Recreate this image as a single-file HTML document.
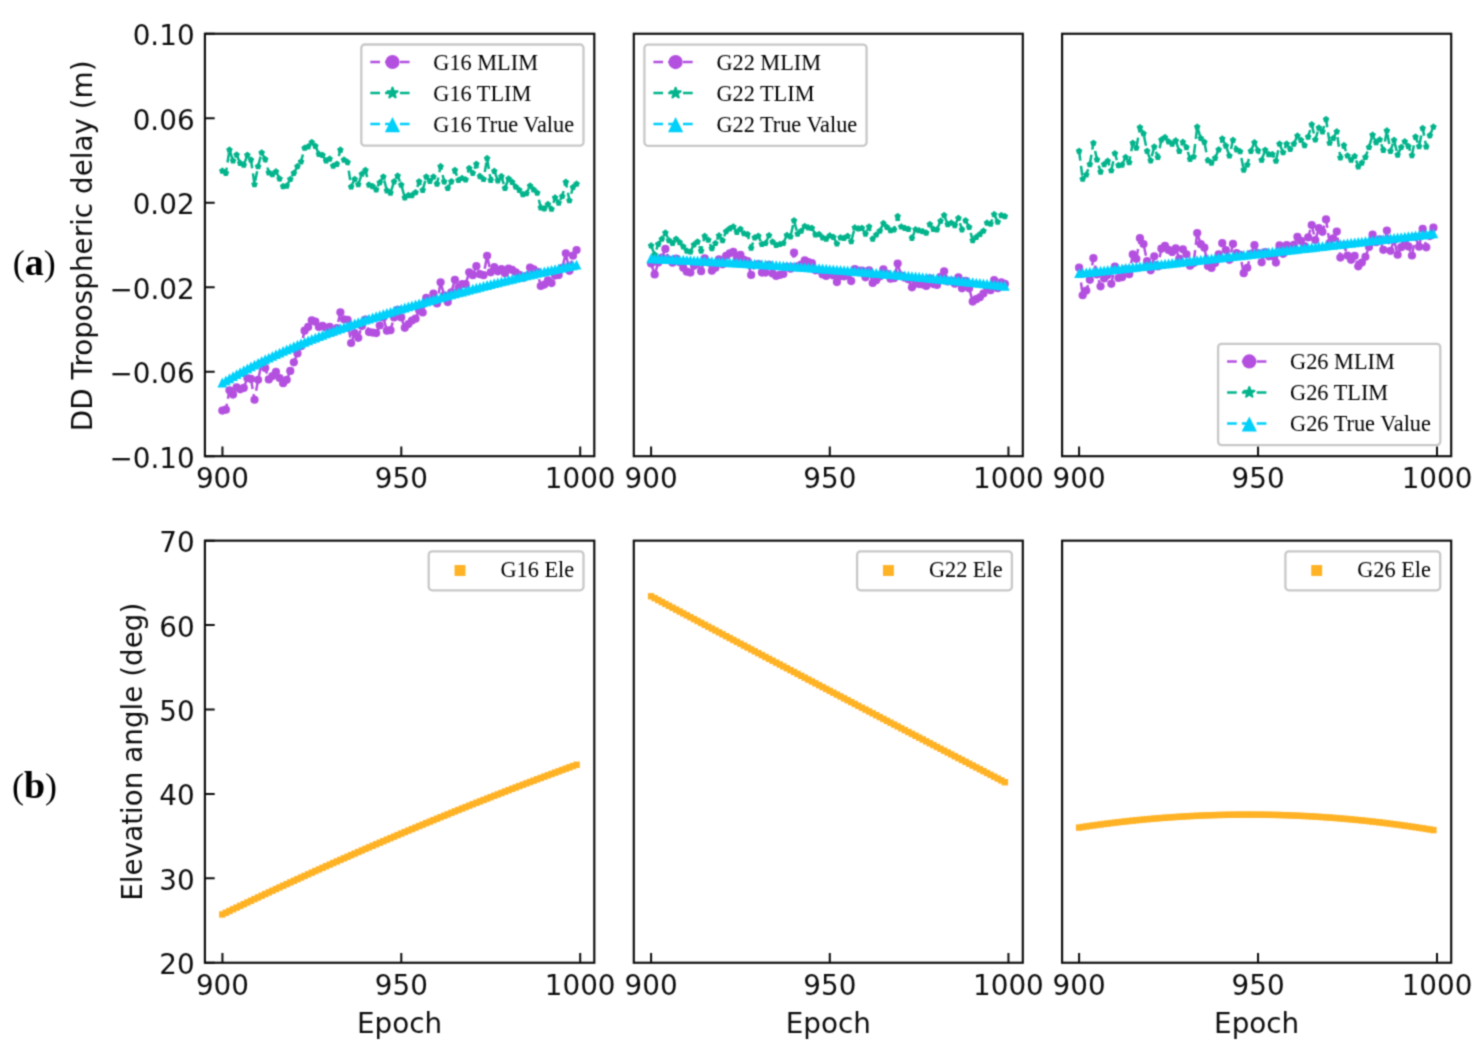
<!DOCTYPE html>
<html lang="en"><head><meta charset="utf-8"><title>DD tropospheric delay and elevation angle</title>
<style>html,body{margin:0;padding:0;background:#fff}body{width:1481px;height:1057px;overflow:hidden}
svg{display:block}text{font-family:'DejaVu Sans','Liberation Sans',sans-serif;font-size:27.8px;fill:#0d0d0d}
text.lg{font-family:'Liberation Serif','DejaVu Serif',serif;font-size:22.3px;fill:#000}
text.pl{font-family:'Liberation Serif','DejaVu Serif',serif;font-size:36px;fill:#000}text.pl tspan{font-weight:bold;font-size:38px}
</style></head><body>
<svg width="1481" height="1057" viewBox="0 0 1481 1057">
<rect width="1481" height="1057" fill="#fff"/>
<defs>
<circle id="mc" r="4.1" fill="#b450e0"/>
<path id="ms" d="M0,-2.4L0.99,-1.36L2.28,-0.74L1.6,0.52L1.41,1.94L0,1.68L-1.41,1.94L-1.6,0.52L-2.28,-0.74L-0.99,-1.36Z" fill="#03b48c" stroke="#03b48c" stroke-width="1.9" stroke-linejoin="round"/>
<path id="mt" d="M0,-4.9L4.9,4.9L-4.9,4.9Z" fill="#00d0fa"/>
<rect id="mq" x="-3.2" y="-3.2" width="6.4" height="6.4" fill="#ffb224"/>
<circle id="lc" r="7.1" fill="#b450e0"/>
<path id="ls" d="M0,-5.3L1.19,-1.64L5.04,-1.64L1.93,0.63L3.12,4.29L0,2.02L-3.12,4.29L-1.93,0.63L-5.04,-1.64L-1.19,-1.64Z" fill="#03b48c" stroke="#03b48c" stroke-width="2.2" stroke-linejoin="round"/>
<path id="lt" d="M0,-7.6L7.6,7.6L-7.6,7.6Z" fill="#00d0fa"/>
<rect id="lq" x="-5.45" y="-5.45" width="10.9" height="10.9" fill="#ffb224"/>
</defs>
<filter id="bl" color-interpolation-filters="sRGB" x="0" y="0" width="1481" height="1057" filterUnits="userSpaceOnUse"><feConvolveMatrix order="3" kernelMatrix="0.0400 0.1200 0.0400 0.1200 0.3600 0.1200 0.0400 0.1200 0.0400" edgeMode="duplicate"/></filter>
<g filter="url(#bl)">
<rect width="1481" height="1057" fill="#fff"/>
<g>
<polyline points="222.3,410.62 225.88,409.67 229.46,390.28 233.04,394.54 236.61,387.44 240.19,389.33 243.77,387.91 247.35,377.98 250.93,378.93 254.51,399.74 258.09,379.87 261.66,363.48 265.24,368.05 268.82,379.4 272.4,376.09 275.98,371.83 279.56,377.98 283.13,383.18 286.71,379.87 290.29,370.88 293.87,362.37 297.45,353.38 301.03,346.21 304.61,330.69 308.18,326.9 311.76,320.28 315.34,321.7 318.92,326.9 322.5,325.96 326.08,327.85 329.66,326.9 333.23,331.92 336.81,328.1 340.39,312.24 343.97,319.33 347.55,319.81 351.13,342.98 354.7,333.05 358.28,337.78 361.86,325.96 365.44,319.51 369.02,332.11 372.6,332.58 376.18,333.05 379.75,325.48 383.33,317.49 386.91,330.69 390.49,330.21 394.07,317.44 397.65,309.89 401.23,317.44 404.8,327.85 408.38,324.06 411.96,320.55 415.54,318.66 419.12,310.15 422.7,312.51 426.27,297.85 429.85,300.82 433.43,293.59 437.01,303.52 440.59,282.24 444.17,295.24 447.75,302.11 451.32,292.27 454.9,279.87 458.48,287.93 462.06,284.13 465.64,284.13 469.22,272.3 472.8,275.14 476.37,266.15 479.95,274.2 483.53,275.14 487.11,255.75 490.69,272.3 494.27,267.1 497.84,271.36 501.42,268.99 505,273.25 508.58,268.52 512.16,269.94 515.74,272.3 519.32,274.97 522.89,278.02 526.47,275.87 530.05,267.57 533.63,269.47 537.21,271.92 540.79,286.02 544.37,284.6 547.94,280.35 551.52,283.12 555.1,275.55 558.68,275.08 562.26,267.88 565.84,253.32 569.41,270.82 572.99,255.68 576.57,250" fill="none" stroke="#b450e0" stroke-width="2.5" stroke-dasharray="9.7 5.2" stroke-linejoin="round"/>
<g><use href="#mc" x="222.3" y="410.62"/><use href="#mc" x="225.88" y="409.67"/><use href="#mc" x="229.46" y="390.28"/><use href="#mc" x="233.04" y="394.54"/><use href="#mc" x="236.61" y="387.44"/><use href="#mc" x="240.19" y="389.33"/><use href="#mc" x="243.77" y="387.91"/><use href="#mc" x="247.35" y="377.98"/><use href="#mc" x="250.93" y="378.93"/><use href="#mc" x="254.51" y="399.74"/><use href="#mc" x="258.09" y="379.87"/><use href="#mc" x="261.66" y="363.48"/><use href="#mc" x="265.24" y="368.05"/><use href="#mc" x="268.82" y="379.4"/><use href="#mc" x="272.4" y="376.09"/><use href="#mc" x="275.98" y="371.83"/><use href="#mc" x="279.56" y="377.98"/><use href="#mc" x="283.13" y="383.18"/><use href="#mc" x="286.71" y="379.87"/><use href="#mc" x="290.29" y="370.88"/><use href="#mc" x="293.87" y="362.37"/><use href="#mc" x="297.45" y="353.38"/><use href="#mc" x="301.03" y="346.21"/><use href="#mc" x="304.61" y="330.69"/><use href="#mc" x="308.18" y="326.9"/><use href="#mc" x="311.76" y="320.28"/><use href="#mc" x="315.34" y="321.7"/><use href="#mc" x="318.92" y="326.9"/><use href="#mc" x="322.5" y="325.96"/><use href="#mc" x="326.08" y="327.85"/><use href="#mc" x="329.66" y="326.9"/><use href="#mc" x="333.23" y="331.92"/><use href="#mc" x="336.81" y="328.1"/><use href="#mc" x="340.39" y="312.24"/><use href="#mc" x="343.97" y="319.33"/><use href="#mc" x="347.55" y="319.81"/><use href="#mc" x="351.13" y="342.98"/><use href="#mc" x="354.7" y="333.05"/><use href="#mc" x="358.28" y="337.78"/><use href="#mc" x="361.86" y="325.96"/><use href="#mc" x="365.44" y="319.51"/><use href="#mc" x="369.02" y="332.11"/><use href="#mc" x="372.6" y="332.58"/><use href="#mc" x="376.18" y="333.05"/><use href="#mc" x="379.75" y="325.48"/><use href="#mc" x="383.33" y="317.49"/><use href="#mc" x="386.91" y="330.69"/><use href="#mc" x="390.49" y="330.21"/><use href="#mc" x="394.07" y="317.44"/><use href="#mc" x="397.65" y="309.89"/><use href="#mc" x="401.23" y="317.44"/><use href="#mc" x="404.8" y="327.85"/><use href="#mc" x="408.38" y="324.06"/><use href="#mc" x="411.96" y="320.55"/><use href="#mc" x="415.54" y="318.66"/><use href="#mc" x="419.12" y="310.15"/><use href="#mc" x="422.7" y="312.51"/><use href="#mc" x="426.27" y="297.85"/><use href="#mc" x="429.85" y="300.82"/><use href="#mc" x="433.43" y="293.59"/><use href="#mc" x="437.01" y="303.52"/><use href="#mc" x="440.59" y="282.24"/><use href="#mc" x="444.17" y="295.24"/><use href="#mc" x="447.75" y="302.11"/><use href="#mc" x="451.32" y="292.27"/><use href="#mc" x="454.9" y="279.87"/><use href="#mc" x="458.48" y="287.93"/><use href="#mc" x="462.06" y="284.13"/><use href="#mc" x="465.64" y="284.13"/><use href="#mc" x="469.22" y="272.3"/><use href="#mc" x="472.8" y="275.14"/><use href="#mc" x="476.37" y="266.15"/><use href="#mc" x="479.95" y="274.2"/><use href="#mc" x="483.53" y="275.14"/><use href="#mc" x="487.11" y="255.75"/><use href="#mc" x="490.69" y="272.3"/><use href="#mc" x="494.27" y="267.1"/><use href="#mc" x="497.84" y="271.36"/><use href="#mc" x="501.42" y="268.99"/><use href="#mc" x="505" y="273.25"/><use href="#mc" x="508.58" y="268.52"/><use href="#mc" x="512.16" y="269.94"/><use href="#mc" x="515.74" y="272.3"/><use href="#mc" x="519.32" y="274.97"/><use href="#mc" x="522.89" y="278.02"/><use href="#mc" x="526.47" y="275.87"/><use href="#mc" x="530.05" y="267.57"/><use href="#mc" x="533.63" y="269.47"/><use href="#mc" x="537.21" y="271.92"/><use href="#mc" x="540.79" y="286.02"/><use href="#mc" x="544.37" y="284.6"/><use href="#mc" x="547.94" y="280.35"/><use href="#mc" x="551.52" y="283.12"/><use href="#mc" x="555.1" y="275.55"/><use href="#mc" x="558.68" y="275.08"/><use href="#mc" x="562.26" y="267.88"/><use href="#mc" x="565.84" y="253.32"/><use href="#mc" x="569.41" y="270.82"/><use href="#mc" x="572.99" y="255.68"/><use href="#mc" x="576.57" y="250"/></g>
<polyline points="222.3,170.87 225.88,173.05 229.46,149.87 233.04,160.75 236.61,154.79 240.19,163.11 243.77,165 247.35,155.07 250.93,159.8 254.51,184.4 258.09,166.42 261.66,152.71 265.24,159.33 268.82,172.57 272.4,174.47 275.98,171.63 279.56,178.72 283.13,186.29 286.71,185.82 290.29,179.2 293.87,173.05 297.45,166.42 301.03,161.69 304.61,147.98 308.18,146.56 311.76,142.3 315.34,146.08 318.92,154.12 322.5,155.07 326.08,160.75 329.66,158.86 333.23,165.95 336.81,164.06 340.39,149.87 343.97,159.8 347.55,162.17 351.13,186.76 354.7,179.2 358.28,184.4 361.86,173.99 365.44,170.21 369.02,184.87 372.6,186.29 376.18,189.6 379.75,182.51 383.33,176.83 386.91,190.55 390.49,192.91 394.07,181.56 397.65,175.88 401.23,184.87 404.8,197.64 408.38,195.28 411.96,195.28 415.54,192.44 419.12,181.56 422.7,190.08 426.27,176.83 429.85,181.09 433.43,176.83 437.01,183.93 440.59,166.42 444.17,181.56 447.75,188.18 451.32,181.56 454.9,170.21 458.48,180.14 462.06,178.25 465.64,179.67 469.22,168.32 472.8,173.05 476.37,164.06 479.95,176.36 483.53,179.2 487.11,158.38 490.69,180.14 494.27,171.15 497.84,180.61 501.42,176.36 505,188.18 508.58,178.72 512.16,182.03 515.74,186.76 519.32,190.08 522.89,194.33 526.47,193.39 530.05,185.82 533.63,189.6 537.21,192.91 540.79,207.58 544.37,208.52 547.94,204.27 551.52,209 555.1,197.64 558.68,202.85 562.26,196.23 565.84,182.03 569.41,200.48 572.99,187.24 576.57,183.93" fill="none" stroke="#03b48c" stroke-width="2.5" stroke-dasharray="9.7 5.2" stroke-linejoin="round"/>
<g><use href="#ms" x="222.3" y="170.87"/><use href="#ms" x="225.88" y="173.05"/><use href="#ms" x="229.46" y="149.87"/><use href="#ms" x="233.04" y="160.75"/><use href="#ms" x="236.61" y="154.79"/><use href="#ms" x="240.19" y="163.11"/><use href="#ms" x="243.77" y="165"/><use href="#ms" x="247.35" y="155.07"/><use href="#ms" x="250.93" y="159.8"/><use href="#ms" x="254.51" y="184.4"/><use href="#ms" x="258.09" y="166.42"/><use href="#ms" x="261.66" y="152.71"/><use href="#ms" x="265.24" y="159.33"/><use href="#ms" x="268.82" y="172.57"/><use href="#ms" x="272.4" y="174.47"/><use href="#ms" x="275.98" y="171.63"/><use href="#ms" x="279.56" y="178.72"/><use href="#ms" x="283.13" y="186.29"/><use href="#ms" x="286.71" y="185.82"/><use href="#ms" x="290.29" y="179.2"/><use href="#ms" x="293.87" y="173.05"/><use href="#ms" x="297.45" y="166.42"/><use href="#ms" x="301.03" y="161.69"/><use href="#ms" x="304.61" y="147.98"/><use href="#ms" x="308.18" y="146.56"/><use href="#ms" x="311.76" y="142.3"/><use href="#ms" x="315.34" y="146.08"/><use href="#ms" x="318.92" y="154.12"/><use href="#ms" x="322.5" y="155.07"/><use href="#ms" x="326.08" y="160.75"/><use href="#ms" x="329.66" y="158.86"/><use href="#ms" x="333.23" y="165.95"/><use href="#ms" x="336.81" y="164.06"/><use href="#ms" x="340.39" y="149.87"/><use href="#ms" x="343.97" y="159.8"/><use href="#ms" x="347.55" y="162.17"/><use href="#ms" x="351.13" y="186.76"/><use href="#ms" x="354.7" y="179.2"/><use href="#ms" x="358.28" y="184.4"/><use href="#ms" x="361.86" y="173.99"/><use href="#ms" x="365.44" y="170.21"/><use href="#ms" x="369.02" y="184.87"/><use href="#ms" x="372.6" y="186.29"/><use href="#ms" x="376.18" y="189.6"/><use href="#ms" x="379.75" y="182.51"/><use href="#ms" x="383.33" y="176.83"/><use href="#ms" x="386.91" y="190.55"/><use href="#ms" x="390.49" y="192.91"/><use href="#ms" x="394.07" y="181.56"/><use href="#ms" x="397.65" y="175.88"/><use href="#ms" x="401.23" y="184.87"/><use href="#ms" x="404.8" y="197.64"/><use href="#ms" x="408.38" y="195.28"/><use href="#ms" x="411.96" y="195.28"/><use href="#ms" x="415.54" y="192.44"/><use href="#ms" x="419.12" y="181.56"/><use href="#ms" x="422.7" y="190.08"/><use href="#ms" x="426.27" y="176.83"/><use href="#ms" x="429.85" y="181.09"/><use href="#ms" x="433.43" y="176.83"/><use href="#ms" x="437.01" y="183.93"/><use href="#ms" x="440.59" y="166.42"/><use href="#ms" x="444.17" y="181.56"/><use href="#ms" x="447.75" y="188.18"/><use href="#ms" x="451.32" y="181.56"/><use href="#ms" x="454.9" y="170.21"/><use href="#ms" x="458.48" y="180.14"/><use href="#ms" x="462.06" y="178.25"/><use href="#ms" x="465.64" y="179.67"/><use href="#ms" x="469.22" y="168.32"/><use href="#ms" x="472.8" y="173.05"/><use href="#ms" x="476.37" y="164.06"/><use href="#ms" x="479.95" y="176.36"/><use href="#ms" x="483.53" y="179.2"/><use href="#ms" x="487.11" y="158.38"/><use href="#ms" x="490.69" y="180.14"/><use href="#ms" x="494.27" y="171.15"/><use href="#ms" x="497.84" y="180.61"/><use href="#ms" x="501.42" y="176.36"/><use href="#ms" x="505" y="188.18"/><use href="#ms" x="508.58" y="178.72"/><use href="#ms" x="512.16" y="182.03"/><use href="#ms" x="515.74" y="186.76"/><use href="#ms" x="519.32" y="190.08"/><use href="#ms" x="522.89" y="194.33"/><use href="#ms" x="526.47" y="193.39"/><use href="#ms" x="530.05" y="185.82"/><use href="#ms" x="533.63" y="189.6"/><use href="#ms" x="537.21" y="192.91"/><use href="#ms" x="540.79" y="207.58"/><use href="#ms" x="544.37" y="208.52"/><use href="#ms" x="547.94" y="204.27"/><use href="#ms" x="551.52" y="209"/><use href="#ms" x="555.1" y="197.64"/><use href="#ms" x="558.68" y="202.85"/><use href="#ms" x="562.26" y="196.23"/><use href="#ms" x="565.84" y="182.03"/><use href="#ms" x="569.41" y="200.48"/><use href="#ms" x="572.99" y="187.24"/><use href="#ms" x="576.57" y="183.93"/></g>
<polyline points="222.3,382.51 225.88,380.37 229.46,378.27 233.04,376.21 236.61,374.18 240.19,372.2 243.77,370.25 247.35,368.33 250.93,366.45 254.51,364.61 258.09,362.79 261.66,361.01 265.24,359.26 268.82,357.54 272.4,355.85 275.98,354.18 279.56,352.54 283.13,350.94 286.71,349.35 290.29,347.79 293.87,346.26 297.45,344.75 301.03,343.26 304.61,341.8 308.18,340.36 311.76,338.93 315.34,337.53 318.92,336.15 322.5,334.79 326.08,333.45 329.66,332.12 333.23,330.81 336.81,329.52 340.39,328.24 343.97,326.98 347.55,325.74 351.13,324.51 354.7,323.29 358.28,322.09 361.86,320.9 365.44,319.72 369.02,318.56 372.6,317.41 376.18,316.26 379.75,315.13 383.33,314.01 386.91,312.91 390.49,311.81 394.07,310.72 397.65,309.64 401.23,308.57 404.8,307.5 408.38,306.45 411.96,305.4 415.54,304.37 419.12,303.34 422.7,302.31 426.27,301.3 429.85,300.29 433.43,299.29 437.01,298.29 440.59,297.3 444.17,296.32 447.75,295.35 451.32,294.38 454.9,293.41 458.48,292.46 462.06,291.51 465.64,290.56 469.22,289.62 472.8,288.69 476.37,287.76 479.95,286.84 483.53,285.92 487.11,285.02 490.69,284.11 494.27,283.21 497.84,282.32 501.42,281.44 505,280.56 508.58,279.69 512.16,278.82 515.74,277.97 519.32,277.11 522.89,276.27 526.47,275.43 530.05,274.6 533.63,273.78 537.21,272.97 540.79,272.16 544.37,271.37 547.94,270.58 551.52,269.8 555.1,269.04 558.68,268.28 562.26,267.53 565.84,266.79 569.41,266.06 572.99,265.35 576.57,264.64" fill="none" stroke="#00d0fa" stroke-width="2.5" stroke-dasharray="9.7 5.2" stroke-linejoin="round"/>
<g><use href="#mt" x="222.3" y="382.51"/><use href="#mt" x="225.88" y="380.37"/><use href="#mt" x="229.46" y="378.27"/><use href="#mt" x="233.04" y="376.21"/><use href="#mt" x="236.61" y="374.18"/><use href="#mt" x="240.19" y="372.2"/><use href="#mt" x="243.77" y="370.25"/><use href="#mt" x="247.35" y="368.33"/><use href="#mt" x="250.93" y="366.45"/><use href="#mt" x="254.51" y="364.61"/><use href="#mt" x="258.09" y="362.79"/><use href="#mt" x="261.66" y="361.01"/><use href="#mt" x="265.24" y="359.26"/><use href="#mt" x="268.82" y="357.54"/><use href="#mt" x="272.4" y="355.85"/><use href="#mt" x="275.98" y="354.18"/><use href="#mt" x="279.56" y="352.54"/><use href="#mt" x="283.13" y="350.94"/><use href="#mt" x="286.71" y="349.35"/><use href="#mt" x="290.29" y="347.79"/><use href="#mt" x="293.87" y="346.26"/><use href="#mt" x="297.45" y="344.75"/><use href="#mt" x="301.03" y="343.26"/><use href="#mt" x="304.61" y="341.8"/><use href="#mt" x="308.18" y="340.36"/><use href="#mt" x="311.76" y="338.93"/><use href="#mt" x="315.34" y="337.53"/><use href="#mt" x="318.92" y="336.15"/><use href="#mt" x="322.5" y="334.79"/><use href="#mt" x="326.08" y="333.45"/><use href="#mt" x="329.66" y="332.12"/><use href="#mt" x="333.23" y="330.81"/><use href="#mt" x="336.81" y="329.52"/><use href="#mt" x="340.39" y="328.24"/><use href="#mt" x="343.97" y="326.98"/><use href="#mt" x="347.55" y="325.74"/><use href="#mt" x="351.13" y="324.51"/><use href="#mt" x="354.7" y="323.29"/><use href="#mt" x="358.28" y="322.09"/><use href="#mt" x="361.86" y="320.9"/><use href="#mt" x="365.44" y="319.72"/><use href="#mt" x="369.02" y="318.56"/><use href="#mt" x="372.6" y="317.41"/><use href="#mt" x="376.18" y="316.26"/><use href="#mt" x="379.75" y="315.13"/><use href="#mt" x="383.33" y="314.01"/><use href="#mt" x="386.91" y="312.91"/><use href="#mt" x="390.49" y="311.81"/><use href="#mt" x="394.07" y="310.72"/><use href="#mt" x="397.65" y="309.64"/><use href="#mt" x="401.23" y="308.57"/><use href="#mt" x="404.8" y="307.5"/><use href="#mt" x="408.38" y="306.45"/><use href="#mt" x="411.96" y="305.4"/><use href="#mt" x="415.54" y="304.37"/><use href="#mt" x="419.12" y="303.34"/><use href="#mt" x="422.7" y="302.31"/><use href="#mt" x="426.27" y="301.3"/><use href="#mt" x="429.85" y="300.29"/><use href="#mt" x="433.43" y="299.29"/><use href="#mt" x="437.01" y="298.29"/><use href="#mt" x="440.59" y="297.3"/><use href="#mt" x="444.17" y="296.32"/><use href="#mt" x="447.75" y="295.35"/><use href="#mt" x="451.32" y="294.38"/><use href="#mt" x="454.9" y="293.41"/><use href="#mt" x="458.48" y="292.46"/><use href="#mt" x="462.06" y="291.51"/><use href="#mt" x="465.64" y="290.56"/><use href="#mt" x="469.22" y="289.62"/><use href="#mt" x="472.8" y="288.69"/><use href="#mt" x="476.37" y="287.76"/><use href="#mt" x="479.95" y="286.84"/><use href="#mt" x="483.53" y="285.92"/><use href="#mt" x="487.11" y="285.02"/><use href="#mt" x="490.69" y="284.11"/><use href="#mt" x="494.27" y="283.21"/><use href="#mt" x="497.84" y="282.32"/><use href="#mt" x="501.42" y="281.44"/><use href="#mt" x="505" y="280.56"/><use href="#mt" x="508.58" y="279.69"/><use href="#mt" x="512.16" y="278.82"/><use href="#mt" x="515.74" y="277.97"/><use href="#mt" x="519.32" y="277.11"/><use href="#mt" x="522.89" y="276.27"/><use href="#mt" x="526.47" y="275.43"/><use href="#mt" x="530.05" y="274.6"/><use href="#mt" x="533.63" y="273.78"/><use href="#mt" x="537.21" y="272.97"/><use href="#mt" x="540.79" y="272.16"/><use href="#mt" x="544.37" y="271.37"/><use href="#mt" x="547.94" y="270.58"/><use href="#mt" x="551.52" y="269.8"/><use href="#mt" x="555.1" y="269.04"/><use href="#mt" x="558.68" y="268.28"/><use href="#mt" x="562.26" y="267.53"/><use href="#mt" x="565.84" y="266.79"/><use href="#mt" x="569.41" y="266.06"/><use href="#mt" x="572.99" y="265.35"/><use href="#mt" x="576.57" y="264.64"/></g>
<path d="M222.45,456.2v-9.8M401.3,456.2v-9.8M580.2,456.2v-9.8M204.9,33.75h9.8M204.9,118.24h9.8M204.9,202.73h9.8M204.9,287.22h9.8M204.9,371.71h9.8M204.9,456.2h9.8" stroke="#0c0c0c" stroke-width="2.0" fill="none"/>
<rect x="204.9" y="33.75" width="389.4" height="422.45" fill="none" stroke="#0c0c0c" stroke-width="2.15"/>
<text x="222.45" y="488.2" text-anchor="middle">900</text>
<text x="401.3" y="488.2" text-anchor="middle">950</text>
<text x="580.2" y="488.2" text-anchor="middle">1000</text>
<text x="194.6" y="45.25" text-anchor="end">0.10</text>
<text x="194.6" y="129.74" text-anchor="end">0.06</text>
<text x="194.6" y="214.23" text-anchor="end">0.02</text>
<text x="194.6" y="298.72" text-anchor="end">−0.02</text>
<text x="194.6" y="383.21" text-anchor="end">−0.06</text>
<text x="194.6" y="467.7" text-anchor="end">−0.10</text>
<rect x="361.3" y="44.5" width="222.2" height="101.2" rx="3.5" fill="#fff" fill-opacity="0.8" stroke="#c8c8c8" stroke-width="2.3"/>
<line x1="370.3" y1="62" x2="414.8" y2="62" stroke="#b450e0" stroke-width="2.5" stroke-dasharray="9.7 5.1"/>
<use href="#lc" x="392.5" y="62"/>
<text class="lg" x="433.3" y="69.7">G16 MLIM</text>
<line x1="370.3" y1="93" x2="414.8" y2="93" stroke="#03b48c" stroke-width="2.5" stroke-dasharray="9.7 5.1"/>
<use href="#ls" x="392.5" y="93"/>
<text class="lg" x="433.3" y="100.8">G16 TLIM</text>
<line x1="370.3" y1="124" x2="414.8" y2="124" stroke="#00d0fa" stroke-width="2.5" stroke-dasharray="9.7 5.1"/>
<use href="#lt" x="392.5" y="124.6"/>
<text class="lg" x="433.3" y="131.9">G16 True Value</text>
</g>
<g>
<g><use href="#mq" x="222.3" y="914.44"/><use href="#mq" x="225.88" y="912.72"/><use href="#mq" x="229.46" y="911"/><use href="#mq" x="233.04" y="909.29"/><use href="#mq" x="236.61" y="907.58"/><use href="#mq" x="240.19" y="905.88"/><use href="#mq" x="243.77" y="904.18"/><use href="#mq" x="247.35" y="902.48"/><use href="#mq" x="250.93" y="900.79"/><use href="#mq" x="254.51" y="899.1"/><use href="#mq" x="258.09" y="897.42"/><use href="#mq" x="261.66" y="895.74"/><use href="#mq" x="265.24" y="894.06"/><use href="#mq" x="268.82" y="892.39"/><use href="#mq" x="272.4" y="890.72"/><use href="#mq" x="275.98" y="889.06"/><use href="#mq" x="279.56" y="887.4"/><use href="#mq" x="283.13" y="885.75"/><use href="#mq" x="286.71" y="884.1"/><use href="#mq" x="290.29" y="882.46"/><use href="#mq" x="293.87" y="880.82"/><use href="#mq" x="297.45" y="879.18"/><use href="#mq" x="301.03" y="877.55"/><use href="#mq" x="304.61" y="875.92"/><use href="#mq" x="308.18" y="874.3"/><use href="#mq" x="311.76" y="872.68"/><use href="#mq" x="315.34" y="871.06"/><use href="#mq" x="318.92" y="869.45"/><use href="#mq" x="322.5" y="867.85"/><use href="#mq" x="326.08" y="866.24"/><use href="#mq" x="329.66" y="864.65"/><use href="#mq" x="333.23" y="863.05"/><use href="#mq" x="336.81" y="861.46"/><use href="#mq" x="340.39" y="859.88"/><use href="#mq" x="343.97" y="858.3"/><use href="#mq" x="347.55" y="856.72"/><use href="#mq" x="351.13" y="855.15"/><use href="#mq" x="354.7" y="853.58"/><use href="#mq" x="358.28" y="852.02"/><use href="#mq" x="361.86" y="850.46"/><use href="#mq" x="365.44" y="848.9"/><use href="#mq" x="369.02" y="847.35"/><use href="#mq" x="372.6" y="845.81"/><use href="#mq" x="376.18" y="844.26"/><use href="#mq" x="379.75" y="842.73"/><use href="#mq" x="383.33" y="841.19"/><use href="#mq" x="386.91" y="839.66"/><use href="#mq" x="390.49" y="838.14"/><use href="#mq" x="394.07" y="836.62"/><use href="#mq" x="397.65" y="835.1"/><use href="#mq" x="401.23" y="833.59"/><use href="#mq" x="404.8" y="832.08"/><use href="#mq" x="408.38" y="830.58"/><use href="#mq" x="411.96" y="829.08"/><use href="#mq" x="415.54" y="827.58"/><use href="#mq" x="419.12" y="826.09"/><use href="#mq" x="422.7" y="824.61"/><use href="#mq" x="426.27" y="823.13"/><use href="#mq" x="429.85" y="821.65"/><use href="#mq" x="433.43" y="820.17"/><use href="#mq" x="437.01" y="818.71"/><use href="#mq" x="440.59" y="817.24"/><use href="#mq" x="444.17" y="815.78"/><use href="#mq" x="447.75" y="814.32"/><use href="#mq" x="451.32" y="812.87"/><use href="#mq" x="454.9" y="811.42"/><use href="#mq" x="458.48" y="809.98"/><use href="#mq" x="462.06" y="808.54"/><use href="#mq" x="465.64" y="807.11"/><use href="#mq" x="469.22" y="805.68"/><use href="#mq" x="472.8" y="804.25"/><use href="#mq" x="476.37" y="802.83"/><use href="#mq" x="479.95" y="801.41"/><use href="#mq" x="483.53" y="800"/><use href="#mq" x="487.11" y="798.59"/><use href="#mq" x="490.69" y="797.18"/><use href="#mq" x="494.27" y="795.78"/><use href="#mq" x="497.84" y="794.39"/><use href="#mq" x="501.42" y="792.99"/><use href="#mq" x="505" y="791.61"/><use href="#mq" x="508.58" y="790.22"/><use href="#mq" x="512.16" y="788.84"/><use href="#mq" x="515.74" y="787.47"/><use href="#mq" x="519.32" y="786.1"/><use href="#mq" x="522.89" y="784.73"/><use href="#mq" x="526.47" y="783.37"/><use href="#mq" x="530.05" y="782.01"/><use href="#mq" x="533.63" y="780.66"/><use href="#mq" x="537.21" y="779.31"/><use href="#mq" x="540.79" y="777.97"/><use href="#mq" x="544.37" y="776.63"/><use href="#mq" x="547.94" y="775.29"/><use href="#mq" x="551.52" y="773.96"/><use href="#mq" x="555.1" y="772.63"/><use href="#mq" x="558.68" y="771.31"/><use href="#mq" x="562.26" y="769.99"/><use href="#mq" x="565.84" y="768.67"/><use href="#mq" x="569.41" y="767.36"/><use href="#mq" x="572.99" y="766.06"/><use href="#mq" x="576.57" y="764.75"/></g>
<path d="M222.45,962.75v-9.8M401.3,962.75v-9.8M580.2,962.75v-9.8M204.9,540.65h9.8M204.9,625.07h9.8M204.9,709.49h9.8M204.9,793.91h9.8M204.9,878.33h9.8M204.9,962.75h9.8" stroke="#0c0c0c" stroke-width="2.0" fill="none"/>
<rect x="204.9" y="540.65" width="389.4" height="422.1" fill="none" stroke="#0c0c0c" stroke-width="2.15"/>
<text x="222.45" y="994.75" text-anchor="middle">900</text>
<text x="401.3" y="994.75" text-anchor="middle">950</text>
<text x="580.2" y="994.75" text-anchor="middle">1000</text>
<text x="194.6" y="552.15" text-anchor="end">70</text>
<text x="194.6" y="636.57" text-anchor="end">60</text>
<text x="194.6" y="720.99" text-anchor="end">50</text>
<text x="194.6" y="805.41" text-anchor="end">40</text>
<text x="194.6" y="889.83" text-anchor="end">30</text>
<text x="194.6" y="974.25" text-anchor="end">20</text>
<rect x="428.7" y="551.3" width="154.8" height="39" rx="3.5" fill="#fff" fill-opacity="0.8" stroke="#c8c8c8" stroke-width="2.3"/>
<use href="#lq" x="460" y="570.5"/>
<text class="lg" x="500.5" y="577.2">G16 Ele</text>
<text x="399.6" y="1032.6" text-anchor="middle">Epoch</text>
</g>
<g>
<polyline points="651.1,263.46 654.67,274.47 658.25,262.52 661.82,257.58 665.39,248.93 668.97,259.52 672.54,262.64 676.11,258.66 679.69,262.26 683.26,267.85 686.84,271.63 690.41,272.58 693.98,265.85 697.56,263.34 701.13,271.16 704.7,258.33 708.28,262.46 711.85,270.69 715.42,267.85 719,259.24 722.57,264.37 726.14,255.76 729.72,253.3 733.29,251.79 736.86,257.62 740.44,254.95 744.01,259.79 747.58,261.05 751.16,274.94 754.73,265.12 758.31,264 761.88,272.58 765.45,272.58 769.03,264.75 772.6,273.52 776.17,275.89 779.75,274.94 783.32,274 786.89,266.81 790.47,268.7 794.04,252.71 797.61,266.83 801.19,264.48 804.76,260.25 808.33,262.17 811.91,263.15 815.48,270.28 819.05,270.32 822.63,274.47 826.2,275.89 829.78,273.31 833.35,275.42 836.92,282.04 840.5,276.36 844.07,276.36 847.64,275.42 851.22,281.09 854.79,269.09 858.36,270.6 861.94,270.69 865.51,277.31 869.08,270.41 872.66,282.98 876.23,280.15 879.8,276.41 883.38,269.42 886.95,273.8 890.52,278.73 894.1,278.25 897.67,263.59 901.25,275.72 904.82,277.74 908.39,279.3 911.97,287.34 915.54,283.55 919.11,284.03 922.69,284.5 926.26,285.92 929.83,278.29 933.41,284.03 936.98,284.97 940.55,276.87 944.13,271.25 947.7,281.46 951.27,280.68 954.85,283.69 958.42,277.23 961.99,288.28 965.57,280.9 969.14,288.28 972.72,301.53 976.29,299.16 979.86,297.27 983.44,293.49 987.01,287.2 990.58,290.18 994.16,280.01 997.73,288.24 1001.3,282.29 1004.88,283.9" fill="none" stroke="#b450e0" stroke-width="2.5" stroke-dasharray="9.7 5.2" stroke-linejoin="round"/>
<g><use href="#mc" x="651.1" y="263.46"/><use href="#mc" x="654.67" y="274.47"/><use href="#mc" x="658.25" y="262.52"/><use href="#mc" x="661.82" y="257.58"/><use href="#mc" x="665.39" y="248.93"/><use href="#mc" x="668.97" y="259.52"/><use href="#mc" x="672.54" y="262.64"/><use href="#mc" x="676.11" y="258.66"/><use href="#mc" x="679.69" y="262.26"/><use href="#mc" x="683.26" y="267.85"/><use href="#mc" x="686.84" y="271.63"/><use href="#mc" x="690.41" y="272.58"/><use href="#mc" x="693.98" y="265.85"/><use href="#mc" x="697.56" y="263.34"/><use href="#mc" x="701.13" y="271.16"/><use href="#mc" x="704.7" y="258.33"/><use href="#mc" x="708.28" y="262.46"/><use href="#mc" x="711.85" y="270.69"/><use href="#mc" x="715.42" y="267.85"/><use href="#mc" x="719" y="259.24"/><use href="#mc" x="722.57" y="264.37"/><use href="#mc" x="726.14" y="255.76"/><use href="#mc" x="729.72" y="253.3"/><use href="#mc" x="733.29" y="251.79"/><use href="#mc" x="736.86" y="257.62"/><use href="#mc" x="740.44" y="254.95"/><use href="#mc" x="744.01" y="259.79"/><use href="#mc" x="747.58" y="261.05"/><use href="#mc" x="751.16" y="274.94"/><use href="#mc" x="754.73" y="265.12"/><use href="#mc" x="758.31" y="264"/><use href="#mc" x="761.88" y="272.58"/><use href="#mc" x="765.45" y="272.58"/><use href="#mc" x="769.03" y="264.75"/><use href="#mc" x="772.6" y="273.52"/><use href="#mc" x="776.17" y="275.89"/><use href="#mc" x="779.75" y="274.94"/><use href="#mc" x="783.32" y="274"/><use href="#mc" x="786.89" y="266.81"/><use href="#mc" x="790.47" y="268.7"/><use href="#mc" x="794.04" y="252.71"/><use href="#mc" x="797.61" y="266.83"/><use href="#mc" x="801.19" y="264.48"/><use href="#mc" x="804.76" y="260.25"/><use href="#mc" x="808.33" y="262.17"/><use href="#mc" x="811.91" y="263.15"/><use href="#mc" x="815.48" y="270.28"/><use href="#mc" x="819.05" y="270.32"/><use href="#mc" x="822.63" y="274.47"/><use href="#mc" x="826.2" y="275.89"/><use href="#mc" x="829.78" y="273.31"/><use href="#mc" x="833.35" y="275.42"/><use href="#mc" x="836.92" y="282.04"/><use href="#mc" x="840.5" y="276.36"/><use href="#mc" x="844.07" y="276.36"/><use href="#mc" x="847.64" y="275.42"/><use href="#mc" x="851.22" y="281.09"/><use href="#mc" x="854.79" y="269.09"/><use href="#mc" x="858.36" y="270.6"/><use href="#mc" x="861.94" y="270.69"/><use href="#mc" x="865.51" y="277.31"/><use href="#mc" x="869.08" y="270.41"/><use href="#mc" x="872.66" y="282.98"/><use href="#mc" x="876.23" y="280.15"/><use href="#mc" x="879.8" y="276.41"/><use href="#mc" x="883.38" y="269.42"/><use href="#mc" x="886.95" y="273.8"/><use href="#mc" x="890.52" y="278.73"/><use href="#mc" x="894.1" y="278.25"/><use href="#mc" x="897.67" y="263.59"/><use href="#mc" x="901.25" y="275.72"/><use href="#mc" x="904.82" y="277.74"/><use href="#mc" x="908.39" y="279.3"/><use href="#mc" x="911.97" y="287.34"/><use href="#mc" x="915.54" y="283.55"/><use href="#mc" x="919.11" y="284.03"/><use href="#mc" x="922.69" y="284.5"/><use href="#mc" x="926.26" y="285.92"/><use href="#mc" x="929.83" y="278.29"/><use href="#mc" x="933.41" y="284.03"/><use href="#mc" x="936.98" y="284.97"/><use href="#mc" x="940.55" y="276.87"/><use href="#mc" x="944.13" y="271.25"/><use href="#mc" x="947.7" y="281.46"/><use href="#mc" x="951.27" y="280.68"/><use href="#mc" x="954.85" y="283.69"/><use href="#mc" x="958.42" y="277.23"/><use href="#mc" x="961.99" y="288.28"/><use href="#mc" x="965.57" y="280.9"/><use href="#mc" x="969.14" y="288.28"/><use href="#mc" x="972.72" y="301.53"/><use href="#mc" x="976.29" y="299.16"/><use href="#mc" x="979.86" y="297.27"/><use href="#mc" x="983.44" y="293.49"/><use href="#mc" x="987.01" y="287.2"/><use href="#mc" x="990.58" y="290.18"/><use href="#mc" x="994.16" y="280.01"/><use href="#mc" x="997.73" y="288.24"/><use href="#mc" x="1001.3" y="282.29"/><use href="#mc" x="1004.88" y="283.9"/></g>
<polyline points="651.1,245.61 654.67,254.6 658.25,244.2 661.82,238.99 665.39,232.84 668.97,240.41 672.54,243.25 676.11,238.99 679.69,242.3 683.26,246.56 686.84,250.82 690.41,251.76 693.98,244.67 697.56,241.83 701.13,250.82 704.7,236.15 708.28,239.94 711.85,248.45 715.42,243.25 719,235.65 722.57,240.41 726.14,231.42 729.72,228.59 733.29,226.69 736.86,232.12 740.44,229.06 744.01,233.49 747.58,234.34 751.16,247.98 754.73,237.57 758.31,236.03 761.88,244.2 765.45,243.25 769.03,235.45 772.6,241.83 776.17,245.14 779.75,244.2 783.32,243.25 786.89,235.21 790.47,236.63 794.04,220.54 797.61,233.79 801.19,230.95 804.76,226.22 808.33,227.64 811.91,228.11 815.48,234.74 819.05,234.26 822.63,237.57 826.2,238.99 829.78,235.68 833.35,237.1 836.92,243.72 840.5,237.57 844.07,238.05 847.64,236.15 851.22,241.36 854.79,227.64 858.36,228.59 861.94,228.11 865.51,233.79 869.08,226.69 872.66,238.99 876.23,234.74 879.8,230.95 883.38,223.38 886.95,227.17 890.52,230.48 894.1,229.53 897.67,216.29 901.25,226.69 904.82,228.11 908.39,229.06 911.97,238.05 915.54,229.53 919.11,230.48 922.69,231.42 926.26,232.84 929.83,224.33 933.41,229.06 936.98,229.53 940.55,221.02 944.13,215.34 947.7,224.33 951.27,222.91 954.85,225.27 958.42,218.18 961.99,229.53 965.57,220.54 969.14,227.17 972.72,240.41 976.29,237.1 979.86,234.26 983.44,230.95 987.01,222.91 990.58,223.86 994.16,214.39 997.73,221.96 1001.3,215.34 1004.88,216.29" fill="none" stroke="#03b48c" stroke-width="2.5" stroke-dasharray="9.7 5.2" stroke-linejoin="round"/>
<g><use href="#ms" x="651.1" y="245.61"/><use href="#ms" x="654.67" y="254.6"/><use href="#ms" x="658.25" y="244.2"/><use href="#ms" x="661.82" y="238.99"/><use href="#ms" x="665.39" y="232.84"/><use href="#ms" x="668.97" y="240.41"/><use href="#ms" x="672.54" y="243.25"/><use href="#ms" x="676.11" y="238.99"/><use href="#ms" x="679.69" y="242.3"/><use href="#ms" x="683.26" y="246.56"/><use href="#ms" x="686.84" y="250.82"/><use href="#ms" x="690.41" y="251.76"/><use href="#ms" x="693.98" y="244.67"/><use href="#ms" x="697.56" y="241.83"/><use href="#ms" x="701.13" y="250.82"/><use href="#ms" x="704.7" y="236.15"/><use href="#ms" x="708.28" y="239.94"/><use href="#ms" x="711.85" y="248.45"/><use href="#ms" x="715.42" y="243.25"/><use href="#ms" x="719" y="235.65"/><use href="#ms" x="722.57" y="240.41"/><use href="#ms" x="726.14" y="231.42"/><use href="#ms" x="729.72" y="228.59"/><use href="#ms" x="733.29" y="226.69"/><use href="#ms" x="736.86" y="232.12"/><use href="#ms" x="740.44" y="229.06"/><use href="#ms" x="744.01" y="233.49"/><use href="#ms" x="747.58" y="234.34"/><use href="#ms" x="751.16" y="247.98"/><use href="#ms" x="754.73" y="237.57"/><use href="#ms" x="758.31" y="236.03"/><use href="#ms" x="761.88" y="244.2"/><use href="#ms" x="765.45" y="243.25"/><use href="#ms" x="769.03" y="235.45"/><use href="#ms" x="772.6" y="241.83"/><use href="#ms" x="776.17" y="245.14"/><use href="#ms" x="779.75" y="244.2"/><use href="#ms" x="783.32" y="243.25"/><use href="#ms" x="786.89" y="235.21"/><use href="#ms" x="790.47" y="236.63"/><use href="#ms" x="794.04" y="220.54"/><use href="#ms" x="797.61" y="233.79"/><use href="#ms" x="801.19" y="230.95"/><use href="#ms" x="804.76" y="226.22"/><use href="#ms" x="808.33" y="227.64"/><use href="#ms" x="811.91" y="228.11"/><use href="#ms" x="815.48" y="234.74"/><use href="#ms" x="819.05" y="234.26"/><use href="#ms" x="822.63" y="237.57"/><use href="#ms" x="826.2" y="238.99"/><use href="#ms" x="829.78" y="235.68"/><use href="#ms" x="833.35" y="237.1"/><use href="#ms" x="836.92" y="243.72"/><use href="#ms" x="840.5" y="237.57"/><use href="#ms" x="844.07" y="238.05"/><use href="#ms" x="847.64" y="236.15"/><use href="#ms" x="851.22" y="241.36"/><use href="#ms" x="854.79" y="227.64"/><use href="#ms" x="858.36" y="228.59"/><use href="#ms" x="861.94" y="228.11"/><use href="#ms" x="865.51" y="233.79"/><use href="#ms" x="869.08" y="226.69"/><use href="#ms" x="872.66" y="238.99"/><use href="#ms" x="876.23" y="234.74"/><use href="#ms" x="879.8" y="230.95"/><use href="#ms" x="883.38" y="223.38"/><use href="#ms" x="886.95" y="227.17"/><use href="#ms" x="890.52" y="230.48"/><use href="#ms" x="894.1" y="229.53"/><use href="#ms" x="897.67" y="216.29"/><use href="#ms" x="901.25" y="226.69"/><use href="#ms" x="904.82" y="228.11"/><use href="#ms" x="908.39" y="229.06"/><use href="#ms" x="911.97" y="238.05"/><use href="#ms" x="915.54" y="229.53"/><use href="#ms" x="919.11" y="230.48"/><use href="#ms" x="922.69" y="231.42"/><use href="#ms" x="926.26" y="232.84"/><use href="#ms" x="929.83" y="224.33"/><use href="#ms" x="933.41" y="229.06"/><use href="#ms" x="936.98" y="229.53"/><use href="#ms" x="940.55" y="221.02"/><use href="#ms" x="944.13" y="215.34"/><use href="#ms" x="947.7" y="224.33"/><use href="#ms" x="951.27" y="222.91"/><use href="#ms" x="954.85" y="225.27"/><use href="#ms" x="958.42" y="218.18"/><use href="#ms" x="961.99" y="229.53"/><use href="#ms" x="965.57" y="220.54"/><use href="#ms" x="969.14" y="227.17"/><use href="#ms" x="972.72" y="240.41"/><use href="#ms" x="976.29" y="237.1"/><use href="#ms" x="979.86" y="234.26"/><use href="#ms" x="983.44" y="230.95"/><use href="#ms" x="987.01" y="222.91"/><use href="#ms" x="990.58" y="223.86"/><use href="#ms" x="994.16" y="214.39"/><use href="#ms" x="997.73" y="221.96"/><use href="#ms" x="1001.3" y="215.34"/><use href="#ms" x="1004.88" y="216.29"/></g>
<polyline points="651.1,258.25 654.67,258.4 658.25,258.56 661.82,258.73 665.39,258.89 668.97,259.06 672.54,259.23 676.11,259.4 679.69,259.57 683.26,259.75 686.84,259.93 690.41,260.11 693.98,260.29 697.56,260.48 701.13,260.67 704.7,260.86 708.28,261.05 711.85,261.25 715.42,261.44 719,261.64 722.57,261.84 726.14,262.05 729.72,262.26 733.29,262.47 736.86,262.68 740.44,262.89 744.01,263.11 747.58,263.33 751.16,263.55 754.73,263.77 758.31,264 761.88,264.23 765.45,264.46 769.03,264.69 772.6,264.93 776.17,265.17 779.75,265.41 783.32,265.65 786.89,265.9 790.47,266.15 794.04,266.4 797.61,266.65 801.19,266.91 804.76,267.16 808.33,267.42 811.91,267.69 815.48,267.95 819.05,268.22 822.63,268.49 826.2,268.77 829.78,269.04 833.35,269.32 836.92,269.6 840.5,269.88 844.07,270.17 847.64,270.46 851.22,270.75 854.79,271.04 858.36,271.34 861.94,271.64 865.51,271.94 869.08,272.24 872.66,272.55 876.23,272.86 879.8,273.17 883.38,273.49 886.95,273.8 890.52,274.12 894.1,274.44 897.67,274.77 901.25,275.1 904.82,275.43 908.39,275.76 911.97,276.09 915.54,276.43 919.11,276.77 922.69,277.11 926.26,277.46 929.83,277.81 933.41,278.16 936.98,278.51 940.55,278.87 944.13,279.23 947.7,279.59 951.27,279.95 954.85,280.32 958.42,280.69 961.99,281.06 965.57,281.44 969.14,281.82 972.72,282.2 976.29,282.58 979.86,282.97 983.44,283.36 987.01,283.75 990.58,284.14 994.16,284.54 997.73,284.94 1001.3,285.34 1004.88,285.75" fill="none" stroke="#00d0fa" stroke-width="2.5" stroke-dasharray="9.7 5.2" stroke-linejoin="round"/>
<g><use href="#mt" x="651.1" y="258.25"/><use href="#mt" x="654.67" y="258.4"/><use href="#mt" x="658.25" y="258.56"/><use href="#mt" x="661.82" y="258.73"/><use href="#mt" x="665.39" y="258.89"/><use href="#mt" x="668.97" y="259.06"/><use href="#mt" x="672.54" y="259.23"/><use href="#mt" x="676.11" y="259.4"/><use href="#mt" x="679.69" y="259.57"/><use href="#mt" x="683.26" y="259.75"/><use href="#mt" x="686.84" y="259.93"/><use href="#mt" x="690.41" y="260.11"/><use href="#mt" x="693.98" y="260.29"/><use href="#mt" x="697.56" y="260.48"/><use href="#mt" x="701.13" y="260.67"/><use href="#mt" x="704.7" y="260.86"/><use href="#mt" x="708.28" y="261.05"/><use href="#mt" x="711.85" y="261.25"/><use href="#mt" x="715.42" y="261.44"/><use href="#mt" x="719" y="261.64"/><use href="#mt" x="722.57" y="261.84"/><use href="#mt" x="726.14" y="262.05"/><use href="#mt" x="729.72" y="262.26"/><use href="#mt" x="733.29" y="262.47"/><use href="#mt" x="736.86" y="262.68"/><use href="#mt" x="740.44" y="262.89"/><use href="#mt" x="744.01" y="263.11"/><use href="#mt" x="747.58" y="263.33"/><use href="#mt" x="751.16" y="263.55"/><use href="#mt" x="754.73" y="263.77"/><use href="#mt" x="758.31" y="264"/><use href="#mt" x="761.88" y="264.23"/><use href="#mt" x="765.45" y="264.46"/><use href="#mt" x="769.03" y="264.69"/><use href="#mt" x="772.6" y="264.93"/><use href="#mt" x="776.17" y="265.17"/><use href="#mt" x="779.75" y="265.41"/><use href="#mt" x="783.32" y="265.65"/><use href="#mt" x="786.89" y="265.9"/><use href="#mt" x="790.47" y="266.15"/><use href="#mt" x="794.04" y="266.4"/><use href="#mt" x="797.61" y="266.65"/><use href="#mt" x="801.19" y="266.91"/><use href="#mt" x="804.76" y="267.16"/><use href="#mt" x="808.33" y="267.42"/><use href="#mt" x="811.91" y="267.69"/><use href="#mt" x="815.48" y="267.95"/><use href="#mt" x="819.05" y="268.22"/><use href="#mt" x="822.63" y="268.49"/><use href="#mt" x="826.2" y="268.77"/><use href="#mt" x="829.78" y="269.04"/><use href="#mt" x="833.35" y="269.32"/><use href="#mt" x="836.92" y="269.6"/><use href="#mt" x="840.5" y="269.88"/><use href="#mt" x="844.07" y="270.17"/><use href="#mt" x="847.64" y="270.46"/><use href="#mt" x="851.22" y="270.75"/><use href="#mt" x="854.79" y="271.04"/><use href="#mt" x="858.36" y="271.34"/><use href="#mt" x="861.94" y="271.64"/><use href="#mt" x="865.51" y="271.94"/><use href="#mt" x="869.08" y="272.24"/><use href="#mt" x="872.66" y="272.55"/><use href="#mt" x="876.23" y="272.86"/><use href="#mt" x="879.8" y="273.17"/><use href="#mt" x="883.38" y="273.49"/><use href="#mt" x="886.95" y="273.8"/><use href="#mt" x="890.52" y="274.12"/><use href="#mt" x="894.1" y="274.44"/><use href="#mt" x="897.67" y="274.77"/><use href="#mt" x="901.25" y="275.1"/><use href="#mt" x="904.82" y="275.43"/><use href="#mt" x="908.39" y="275.76"/><use href="#mt" x="911.97" y="276.09"/><use href="#mt" x="915.54" y="276.43"/><use href="#mt" x="919.11" y="276.77"/><use href="#mt" x="922.69" y="277.11"/><use href="#mt" x="926.26" y="277.46"/><use href="#mt" x="929.83" y="277.81"/><use href="#mt" x="933.41" y="278.16"/><use href="#mt" x="936.98" y="278.51"/><use href="#mt" x="940.55" y="278.87"/><use href="#mt" x="944.13" y="279.23"/><use href="#mt" x="947.7" y="279.59"/><use href="#mt" x="951.27" y="279.95"/><use href="#mt" x="954.85" y="280.32"/><use href="#mt" x="958.42" y="280.69"/><use href="#mt" x="961.99" y="281.06"/><use href="#mt" x="965.57" y="281.44"/><use href="#mt" x="969.14" y="281.82"/><use href="#mt" x="972.72" y="282.2"/><use href="#mt" x="976.29" y="282.58"/><use href="#mt" x="979.86" y="282.97"/><use href="#mt" x="983.44" y="283.36"/><use href="#mt" x="987.01" y="283.75"/><use href="#mt" x="990.58" y="284.14"/><use href="#mt" x="994.16" y="284.54"/><use href="#mt" x="997.73" y="284.94"/><use href="#mt" x="1001.3" y="285.34"/><use href="#mt" x="1004.88" y="285.75"/></g>
<path d="M651.1,456.2v-9.8M829.8,456.2v-9.8M1008.45,456.2v-9.8" stroke="#0c0c0c" stroke-width="2.0" fill="none"/>
<rect x="633.8" y="33.75" width="389" height="422.45" fill="none" stroke="#0c0c0c" stroke-width="2.15"/>
<text x="651.1" y="488.2" text-anchor="middle">900</text>
<text x="829.8" y="488.2" text-anchor="middle">950</text>
<text x="1008.45" y="488.2" text-anchor="middle">1000</text>
<rect x="644.4" y="44.6" width="222.2" height="101.2" rx="3.5" fill="#fff" fill-opacity="0.8" stroke="#c8c8c8" stroke-width="2.3"/>
<line x1="653.4" y1="62.1" x2="697.9" y2="62.1" stroke="#b450e0" stroke-width="2.5" stroke-dasharray="9.7 5.1"/>
<use href="#lc" x="675.6" y="62.1"/>
<text class="lg" x="716.4" y="69.8">G22 MLIM</text>
<line x1="653.4" y1="93.1" x2="697.9" y2="93.1" stroke="#03b48c" stroke-width="2.5" stroke-dasharray="9.7 5.1"/>
<use href="#ls" x="675.6" y="93.1"/>
<text class="lg" x="716.4" y="100.9">G22 TLIM</text>
<line x1="653.4" y1="124.1" x2="697.9" y2="124.1" stroke="#00d0fa" stroke-width="2.5" stroke-dasharray="9.7 5.1"/>
<use href="#lt" x="675.6" y="124.7"/>
<text class="lg" x="716.4" y="132">G22 True Value</text>
</g>
<g>
<g><use href="#mq" x="651.1" y="596.3"/><use href="#mq" x="654.67" y="598.2"/><use href="#mq" x="658.25" y="600.11"/><use href="#mq" x="661.82" y="602.01"/><use href="#mq" x="665.39" y="603.91"/><use href="#mq" x="668.97" y="605.81"/><use href="#mq" x="672.54" y="607.71"/><use href="#mq" x="676.11" y="609.61"/><use href="#mq" x="679.69" y="611.51"/><use href="#mq" x="683.26" y="613.41"/><use href="#mq" x="686.84" y="615.31"/><use href="#mq" x="690.41" y="617.21"/><use href="#mq" x="693.98" y="619.11"/><use href="#mq" x="697.56" y="621.01"/><use href="#mq" x="701.13" y="622.9"/><use href="#mq" x="704.7" y="624.8"/><use href="#mq" x="708.28" y="626.69"/><use href="#mq" x="711.85" y="628.59"/><use href="#mq" x="715.42" y="630.48"/><use href="#mq" x="719" y="632.38"/><use href="#mq" x="722.57" y="634.27"/><use href="#mq" x="726.14" y="636.17"/><use href="#mq" x="729.72" y="638.06"/><use href="#mq" x="733.29" y="639.95"/><use href="#mq" x="736.86" y="641.84"/><use href="#mq" x="740.44" y="643.73"/><use href="#mq" x="744.01" y="645.62"/><use href="#mq" x="747.58" y="647.51"/><use href="#mq" x="751.16" y="649.4"/><use href="#mq" x="754.73" y="651.29"/><use href="#mq" x="758.31" y="653.18"/><use href="#mq" x="761.88" y="655.07"/><use href="#mq" x="765.45" y="656.96"/><use href="#mq" x="769.03" y="658.84"/><use href="#mq" x="772.6" y="660.73"/><use href="#mq" x="776.17" y="662.62"/><use href="#mq" x="779.75" y="664.5"/><use href="#mq" x="783.32" y="666.39"/><use href="#mq" x="786.89" y="668.27"/><use href="#mq" x="790.47" y="670.15"/><use href="#mq" x="794.04" y="672.04"/><use href="#mq" x="797.61" y="673.92"/><use href="#mq" x="801.19" y="675.8"/><use href="#mq" x="804.76" y="677.68"/><use href="#mq" x="808.33" y="679.57"/><use href="#mq" x="811.91" y="681.45"/><use href="#mq" x="815.48" y="683.33"/><use href="#mq" x="819.05" y="685.21"/><use href="#mq" x="822.63" y="687.09"/><use href="#mq" x="826.2" y="688.96"/><use href="#mq" x="829.78" y="690.84"/><use href="#mq" x="833.35" y="692.72"/><use href="#mq" x="836.92" y="694.6"/><use href="#mq" x="840.5" y="696.47"/><use href="#mq" x="844.07" y="698.35"/><use href="#mq" x="847.64" y="700.23"/><use href="#mq" x="851.22" y="702.1"/><use href="#mq" x="854.79" y="703.98"/><use href="#mq" x="858.36" y="705.85"/><use href="#mq" x="861.94" y="707.72"/><use href="#mq" x="865.51" y="709.6"/><use href="#mq" x="869.08" y="711.47"/><use href="#mq" x="872.66" y="713.34"/><use href="#mq" x="876.23" y="715.21"/><use href="#mq" x="879.8" y="717.08"/><use href="#mq" x="883.38" y="718.95"/><use href="#mq" x="886.95" y="720.82"/><use href="#mq" x="890.52" y="722.69"/><use href="#mq" x="894.1" y="724.56"/><use href="#mq" x="897.67" y="726.43"/><use href="#mq" x="901.25" y="728.3"/><use href="#mq" x="904.82" y="730.17"/><use href="#mq" x="908.39" y="732.03"/><use href="#mq" x="911.97" y="733.9"/><use href="#mq" x="915.54" y="735.76"/><use href="#mq" x="919.11" y="737.63"/><use href="#mq" x="922.69" y="739.49"/><use href="#mq" x="926.26" y="741.36"/><use href="#mq" x="929.83" y="743.22"/><use href="#mq" x="933.41" y="745.09"/><use href="#mq" x="936.98" y="746.95"/><use href="#mq" x="940.55" y="748.81"/><use href="#mq" x="944.13" y="750.67"/><use href="#mq" x="947.7" y="752.53"/><use href="#mq" x="951.27" y="754.39"/><use href="#mq" x="954.85" y="756.25"/><use href="#mq" x="958.42" y="758.11"/><use href="#mq" x="961.99" y="759.97"/><use href="#mq" x="965.57" y="761.83"/><use href="#mq" x="969.14" y="763.69"/><use href="#mq" x="972.72" y="765.55"/><use href="#mq" x="976.29" y="767.4"/><use href="#mq" x="979.86" y="769.26"/><use href="#mq" x="983.44" y="771.12"/><use href="#mq" x="987.01" y="772.97"/><use href="#mq" x="990.58" y="774.83"/><use href="#mq" x="994.16" y="776.68"/><use href="#mq" x="997.73" y="778.53"/><use href="#mq" x="1001.3" y="780.39"/><use href="#mq" x="1004.88" y="782.24"/></g>
<path d="M651.1,962.75v-9.8M829.8,962.75v-9.8M1008.45,962.75v-9.8" stroke="#0c0c0c" stroke-width="2.0" fill="none"/>
<rect x="633.8" y="540.65" width="389" height="422.1" fill="none" stroke="#0c0c0c" stroke-width="2.15"/>
<text x="651.1" y="994.75" text-anchor="middle">900</text>
<text x="829.8" y="994.75" text-anchor="middle">950</text>
<text x="1008.45" y="994.75" text-anchor="middle">1000</text>
<rect x="857.1" y="551.3" width="154.8" height="39" rx="3.5" fill="#fff" fill-opacity="0.8" stroke="#c8c8c8" stroke-width="2.3"/>
<use href="#lq" x="888.4" y="570.5"/>
<text class="lg" x="928.9" y="577.2">G22 Ele</text>
<text x="828.3" y="1032.6" text-anchor="middle">Epoch</text>
</g>
<g>
<polyline points="1079.1,267.71 1082.68,295.25 1086.26,290.62 1089.84,279.85 1093.42,258.2 1096.99,274.4 1100.57,286.34 1104.15,278.42 1107.73,274.76 1111.31,283.87 1114.89,266.5 1118.47,277.98 1122.05,277.17 1125.63,269.27 1129.21,274.14 1132.78,254.42 1136.36,258.83 1139.94,238.17 1143.52,244 1147.1,261.19 1150.68,270.34 1154.26,256.32 1157.84,266.43 1161.42,248.63 1165,245.97 1168.57,249.94 1172.15,252.02 1175.73,248.42 1179.31,258.55 1182.89,249.29 1186.47,254.23 1190.05,265.72 1193.63,263.09 1197.21,233.04 1200.79,244.14 1204.37,247.67 1207.94,265.88 1211.52,268.01 1215.1,263.04 1218.68,254.3 1222.26,243.19 1225.84,250.07 1229.42,259.78 1233,243.96 1236.58,253.22 1240.15,254.91 1243.73,273.16 1247.31,267.76 1250.89,253.86 1254.47,245.16 1258.05,253.03 1261.63,262.31 1265.21,252.21 1268.79,256.31 1272.37,256.15 1275.94,262.62 1279.52,245.45 1283.1,253.82 1286.68,245.17 1290.26,250.24 1293.84,244.92 1297.42,236.76 1301,240.9 1304.58,245.99 1308.16,237.38 1311.73,224.98 1315.31,240.03 1318.89,228.12 1322.47,231.82 1326.05,219.45 1329.63,243.03 1333.21,238.24 1336.79,231.56 1340.37,257.53 1343.95,245.18 1347.52,255.55 1351.1,259.78 1354.68,255.97 1358.26,266.35 1361.84,262.56 1365.42,256.87 1369,246.94 1372.58,234.65 1376.16,242.23 1379.74,239.41 1383.32,249.84 1386.89,230.48 1390.47,250.85 1394.05,240.02 1397.63,254.73 1401.21,247.22 1404.79,241.61 1408.37,246.42 1411.95,255.48 1415.53,237.12 1419.11,246.67 1422.68,228.8 1426.26,247.35 1429.84,236.11 1433.42,227.72" fill="none" stroke="#b450e0" stroke-width="2.5" stroke-dasharray="9.7 5.2" stroke-linejoin="round"/>
<g><use href="#mc" x="1079.1" y="267.71"/><use href="#mc" x="1082.68" y="295.25"/><use href="#mc" x="1086.26" y="290.62"/><use href="#mc" x="1089.84" y="279.85"/><use href="#mc" x="1093.42" y="258.2"/><use href="#mc" x="1096.99" y="274.4"/><use href="#mc" x="1100.57" y="286.34"/><use href="#mc" x="1104.15" y="278.42"/><use href="#mc" x="1107.73" y="274.76"/><use href="#mc" x="1111.31" y="283.87"/><use href="#mc" x="1114.89" y="266.5"/><use href="#mc" x="1118.47" y="277.98"/><use href="#mc" x="1122.05" y="277.17"/><use href="#mc" x="1125.63" y="269.27"/><use href="#mc" x="1129.21" y="274.14"/><use href="#mc" x="1132.78" y="254.42"/><use href="#mc" x="1136.36" y="258.83"/><use href="#mc" x="1139.94" y="238.17"/><use href="#mc" x="1143.52" y="244"/><use href="#mc" x="1147.1" y="261.19"/><use href="#mc" x="1150.68" y="270.34"/><use href="#mc" x="1154.26" y="256.32"/><use href="#mc" x="1157.84" y="266.43"/><use href="#mc" x="1161.42" y="248.63"/><use href="#mc" x="1165" y="245.97"/><use href="#mc" x="1168.57" y="249.94"/><use href="#mc" x="1172.15" y="252.02"/><use href="#mc" x="1175.73" y="248.42"/><use href="#mc" x="1179.31" y="258.55"/><use href="#mc" x="1182.89" y="249.29"/><use href="#mc" x="1186.47" y="254.23"/><use href="#mc" x="1190.05" y="265.72"/><use href="#mc" x="1193.63" y="263.09"/><use href="#mc" x="1197.21" y="233.04"/><use href="#mc" x="1200.79" y="244.14"/><use href="#mc" x="1204.37" y="247.67"/><use href="#mc" x="1207.94" y="265.88"/><use href="#mc" x="1211.52" y="268.01"/><use href="#mc" x="1215.1" y="263.04"/><use href="#mc" x="1218.68" y="254.3"/><use href="#mc" x="1222.26" y="243.19"/><use href="#mc" x="1225.84" y="250.07"/><use href="#mc" x="1229.42" y="259.78"/><use href="#mc" x="1233" y="243.96"/><use href="#mc" x="1236.58" y="253.22"/><use href="#mc" x="1240.15" y="254.91"/><use href="#mc" x="1243.73" y="273.16"/><use href="#mc" x="1247.31" y="267.76"/><use href="#mc" x="1250.89" y="253.86"/><use href="#mc" x="1254.47" y="245.16"/><use href="#mc" x="1258.05" y="253.03"/><use href="#mc" x="1261.63" y="262.31"/><use href="#mc" x="1265.21" y="252.21"/><use href="#mc" x="1268.79" y="256.31"/><use href="#mc" x="1272.37" y="256.15"/><use href="#mc" x="1275.94" y="262.62"/><use href="#mc" x="1279.52" y="245.45"/><use href="#mc" x="1283.1" y="253.82"/><use href="#mc" x="1286.68" y="245.17"/><use href="#mc" x="1290.26" y="250.24"/><use href="#mc" x="1293.84" y="244.92"/><use href="#mc" x="1297.42" y="236.76"/><use href="#mc" x="1301" y="240.9"/><use href="#mc" x="1304.58" y="245.99"/><use href="#mc" x="1308.16" y="237.38"/><use href="#mc" x="1311.73" y="224.98"/><use href="#mc" x="1315.31" y="240.03"/><use href="#mc" x="1318.89" y="228.12"/><use href="#mc" x="1322.47" y="231.82"/><use href="#mc" x="1326.05" y="219.45"/><use href="#mc" x="1329.63" y="243.03"/><use href="#mc" x="1333.21" y="238.24"/><use href="#mc" x="1336.79" y="231.56"/><use href="#mc" x="1340.37" y="257.53"/><use href="#mc" x="1343.95" y="245.18"/><use href="#mc" x="1347.52" y="255.55"/><use href="#mc" x="1351.1" y="259.78"/><use href="#mc" x="1354.68" y="255.97"/><use href="#mc" x="1358.26" y="266.35"/><use href="#mc" x="1361.84" y="262.56"/><use href="#mc" x="1365.42" y="256.87"/><use href="#mc" x="1369" y="246.94"/><use href="#mc" x="1372.58" y="234.65"/><use href="#mc" x="1376.16" y="242.23"/><use href="#mc" x="1379.74" y="239.41"/><use href="#mc" x="1383.32" y="249.84"/><use href="#mc" x="1386.89" y="230.48"/><use href="#mc" x="1390.47" y="250.85"/><use href="#mc" x="1394.05" y="240.02"/><use href="#mc" x="1397.63" y="254.73"/><use href="#mc" x="1401.21" y="247.22"/><use href="#mc" x="1404.79" y="241.61"/><use href="#mc" x="1408.37" y="246.42"/><use href="#mc" x="1411.95" y="255.48"/><use href="#mc" x="1415.53" y="237.12"/><use href="#mc" x="1419.11" y="246.67"/><use href="#mc" x="1422.68" y="228.8"/><use href="#mc" x="1426.26" y="247.35"/><use href="#mc" x="1429.84" y="236.11"/><use href="#mc" x="1433.42" y="227.72"/></g>
<polyline points="1079.1,151.09 1082.68,179 1086.26,174.74 1089.84,164.33 1093.42,143.05 1096.99,159.6 1100.57,171.9 1104.15,164.33 1107.73,161.02 1111.31,170.48 1114.89,153.45 1118.47,165.28 1122.05,164.81 1125.63,157.24 1129.21,162.44 1132.78,143.05 1136.36,147.78 1139.94,127.44 1143.52,133.59 1147.1,151.09 1150.68,160.55 1154.26,146.83 1157.84,157.24 1161.42,139.74 1165,137.37 1168.57,141.63 1172.15,143.99 1175.73,140.68 1179.31,151.09 1182.89,142.1 1186.47,147.3 1190.05,159.06 1193.63,156.7 1197.21,126.9 1200.79,138.25 1204.37,142.03 1207.94,160.48 1211.52,162.85 1215.1,158.12 1218.68,149.6 1222.26,138.72 1225.84,145.82 1229.42,155.75 1233,140.14 1236.58,149.6 1240.15,151.49 1243.73,169.94 1247.31,164.74 1250.89,151.02 1254.47,142.51 1258.05,150.55 1261.63,160.01 1265.21,150.08 1268.79,154.33 1272.37,154.33 1275.94,160.96 1279.52,143.93 1283.1,152.44 1286.68,143.93 1290.26,149.13 1293.84,143.93 1297.42,135.88 1301,140.14 1304.58,145.35 1308.16,136.83 1311.73,124.53 1315.31,139.67 1318.89,127.84 1322.47,131.63 1326.05,119.33 1329.63,142.98 1333.21,138.25 1336.79,131.63 1340.37,157.64 1343.95,145.35 1347.52,155.75 1351.1,160.01 1354.68,156.23 1358.26,166.63 1361.84,162.85 1365.42,157.17 1369,147.24 1372.58,134.94 1376.16,142.51 1379.74,139.67 1383.32,150.08 1386.89,130.68 1390.47,151.02 1394.05,140.14 1397.63,154.81 1401.21,147.24 1404.79,141.56 1408.37,146.29 1411.95,155.28 1415.53,136.83 1419.11,146.29 1422.68,128.32 1426.26,146.76 1429.84,135.41 1433.42,126.9" fill="none" stroke="#03b48c" stroke-width="2.5" stroke-dasharray="9.7 5.2" stroke-linejoin="round"/>
<g><use href="#ms" x="1079.1" y="151.09"/><use href="#ms" x="1082.68" y="179"/><use href="#ms" x="1086.26" y="174.74"/><use href="#ms" x="1089.84" y="164.33"/><use href="#ms" x="1093.42" y="143.05"/><use href="#ms" x="1096.99" y="159.6"/><use href="#ms" x="1100.57" y="171.9"/><use href="#ms" x="1104.15" y="164.33"/><use href="#ms" x="1107.73" y="161.02"/><use href="#ms" x="1111.31" y="170.48"/><use href="#ms" x="1114.89" y="153.45"/><use href="#ms" x="1118.47" y="165.28"/><use href="#ms" x="1122.05" y="164.81"/><use href="#ms" x="1125.63" y="157.24"/><use href="#ms" x="1129.21" y="162.44"/><use href="#ms" x="1132.78" y="143.05"/><use href="#ms" x="1136.36" y="147.78"/><use href="#ms" x="1139.94" y="127.44"/><use href="#ms" x="1143.52" y="133.59"/><use href="#ms" x="1147.1" y="151.09"/><use href="#ms" x="1150.68" y="160.55"/><use href="#ms" x="1154.26" y="146.83"/><use href="#ms" x="1157.84" y="157.24"/><use href="#ms" x="1161.42" y="139.74"/><use href="#ms" x="1165" y="137.37"/><use href="#ms" x="1168.57" y="141.63"/><use href="#ms" x="1172.15" y="143.99"/><use href="#ms" x="1175.73" y="140.68"/><use href="#ms" x="1179.31" y="151.09"/><use href="#ms" x="1182.89" y="142.1"/><use href="#ms" x="1186.47" y="147.3"/><use href="#ms" x="1190.05" y="159.06"/><use href="#ms" x="1193.63" y="156.7"/><use href="#ms" x="1197.21" y="126.9"/><use href="#ms" x="1200.79" y="138.25"/><use href="#ms" x="1204.37" y="142.03"/><use href="#ms" x="1207.94" y="160.48"/><use href="#ms" x="1211.52" y="162.85"/><use href="#ms" x="1215.1" y="158.12"/><use href="#ms" x="1218.68" y="149.6"/><use href="#ms" x="1222.26" y="138.72"/><use href="#ms" x="1225.84" y="145.82"/><use href="#ms" x="1229.42" y="155.75"/><use href="#ms" x="1233" y="140.14"/><use href="#ms" x="1236.58" y="149.6"/><use href="#ms" x="1240.15" y="151.49"/><use href="#ms" x="1243.73" y="169.94"/><use href="#ms" x="1247.31" y="164.74"/><use href="#ms" x="1250.89" y="151.02"/><use href="#ms" x="1254.47" y="142.51"/><use href="#ms" x="1258.05" y="150.55"/><use href="#ms" x="1261.63" y="160.01"/><use href="#ms" x="1265.21" y="150.08"/><use href="#ms" x="1268.79" y="154.33"/><use href="#ms" x="1272.37" y="154.33"/><use href="#ms" x="1275.94" y="160.96"/><use href="#ms" x="1279.52" y="143.93"/><use href="#ms" x="1283.1" y="152.44"/><use href="#ms" x="1286.68" y="143.93"/><use href="#ms" x="1290.26" y="149.13"/><use href="#ms" x="1293.84" y="143.93"/><use href="#ms" x="1297.42" y="135.88"/><use href="#ms" x="1301" y="140.14"/><use href="#ms" x="1304.58" y="145.35"/><use href="#ms" x="1308.16" y="136.83"/><use href="#ms" x="1311.73" y="124.53"/><use href="#ms" x="1315.31" y="139.67"/><use href="#ms" x="1318.89" y="127.84"/><use href="#ms" x="1322.47" y="131.63"/><use href="#ms" x="1326.05" y="119.33"/><use href="#ms" x="1329.63" y="142.98"/><use href="#ms" x="1333.21" y="138.25"/><use href="#ms" x="1336.79" y="131.63"/><use href="#ms" x="1340.37" y="157.64"/><use href="#ms" x="1343.95" y="145.35"/><use href="#ms" x="1347.52" y="155.75"/><use href="#ms" x="1351.1" y="160.01"/><use href="#ms" x="1354.68" y="156.23"/><use href="#ms" x="1358.26" y="166.63"/><use href="#ms" x="1361.84" y="162.85"/><use href="#ms" x="1365.42" y="157.17"/><use href="#ms" x="1369" y="147.24"/><use href="#ms" x="1372.58" y="134.94"/><use href="#ms" x="1376.16" y="142.51"/><use href="#ms" x="1379.74" y="139.67"/><use href="#ms" x="1383.32" y="150.08"/><use href="#ms" x="1386.89" y="130.68"/><use href="#ms" x="1390.47" y="151.02"/><use href="#ms" x="1394.05" y="140.14"/><use href="#ms" x="1397.63" y="154.81"/><use href="#ms" x="1401.21" y="147.24"/><use href="#ms" x="1404.79" y="141.56"/><use href="#ms" x="1408.37" y="146.29"/><use href="#ms" x="1411.95" y="155.28"/><use href="#ms" x="1415.53" y="136.83"/><use href="#ms" x="1419.11" y="146.29"/><use href="#ms" x="1422.68" y="128.32"/><use href="#ms" x="1426.26" y="146.76"/><use href="#ms" x="1429.84" y="135.41"/><use href="#ms" x="1433.42" y="126.9"/></g>
<polyline points="1079.1,273.11 1082.68,272.72 1086.26,272.32 1089.84,271.93 1093.42,271.54 1096.99,271.15 1100.57,270.76 1104.15,270.37 1107.73,269.98 1111.31,269.58 1114.89,269.19 1118.47,268.8 1122.05,268.41 1125.63,268.01 1129.21,267.62 1132.78,267.23 1136.36,266.83 1139.94,266.44 1143.52,266.04 1147.1,265.65 1150.68,265.26 1154.26,264.86 1157.84,264.46 1161.42,264.07 1165,263.67 1168.57,263.28 1172.15,262.88 1175.73,262.48 1179.31,262.09 1182.89,261.69 1186.47,261.29 1190.05,260.9 1193.63,260.5 1197.21,260.1 1200.79,259.7 1204.37,259.3 1207.94,258.91 1211.52,258.51 1215.1,258.11 1218.68,257.71 1222.26,257.31 1225.84,256.91 1229.42,256.51 1233,256.11 1236.58,255.71 1240.15,255.31 1243.73,254.91 1247.31,254.51 1250.89,254.1 1254.47,253.7 1258.05,253.3 1261.63,252.9 1265.21,252.5 1268.79,252.09 1272.37,251.69 1275.94,251.29 1279.52,250.88 1283.1,250.48 1286.68,250.08 1290.26,249.67 1293.84,249.27 1297.42,248.86 1301,248.46 1304.58,248.05 1308.16,247.65 1311.73,247.24 1315.31,246.84 1318.89,246.43 1322.47,246.03 1326.05,245.62 1329.63,245.21 1333.21,244.8 1336.79,244.4 1340.37,243.99 1343.95,243.58 1347.52,243.17 1351.1,242.77 1354.68,242.36 1358.26,241.95 1361.84,241.54 1365.42,241.13 1369,240.72 1372.58,240.31 1376.16,239.9 1379.74,239.49 1383.32,239.08 1386.89,238.67 1390.47,238.26 1394.05,237.85 1397.63,237.44 1401.21,237.03 1404.79,236.62 1408.37,236.2 1411.95,235.79 1415.53,235.38 1419.11,234.97 1422.68,234.55 1426.26,234.14 1429.84,233.73 1433.42,233.31" fill="none" stroke="#00d0fa" stroke-width="2.5" stroke-dasharray="9.7 5.2" stroke-linejoin="round"/>
<g><use href="#mt" x="1079.1" y="273.11"/><use href="#mt" x="1082.68" y="272.72"/><use href="#mt" x="1086.26" y="272.32"/><use href="#mt" x="1089.84" y="271.93"/><use href="#mt" x="1093.42" y="271.54"/><use href="#mt" x="1096.99" y="271.15"/><use href="#mt" x="1100.57" y="270.76"/><use href="#mt" x="1104.15" y="270.37"/><use href="#mt" x="1107.73" y="269.98"/><use href="#mt" x="1111.31" y="269.58"/><use href="#mt" x="1114.89" y="269.19"/><use href="#mt" x="1118.47" y="268.8"/><use href="#mt" x="1122.05" y="268.41"/><use href="#mt" x="1125.63" y="268.01"/><use href="#mt" x="1129.21" y="267.62"/><use href="#mt" x="1132.78" y="267.23"/><use href="#mt" x="1136.36" y="266.83"/><use href="#mt" x="1139.94" y="266.44"/><use href="#mt" x="1143.52" y="266.04"/><use href="#mt" x="1147.1" y="265.65"/><use href="#mt" x="1150.68" y="265.26"/><use href="#mt" x="1154.26" y="264.86"/><use href="#mt" x="1157.84" y="264.46"/><use href="#mt" x="1161.42" y="264.07"/><use href="#mt" x="1165" y="263.67"/><use href="#mt" x="1168.57" y="263.28"/><use href="#mt" x="1172.15" y="262.88"/><use href="#mt" x="1175.73" y="262.48"/><use href="#mt" x="1179.31" y="262.09"/><use href="#mt" x="1182.89" y="261.69"/><use href="#mt" x="1186.47" y="261.29"/><use href="#mt" x="1190.05" y="260.9"/><use href="#mt" x="1193.63" y="260.5"/><use href="#mt" x="1197.21" y="260.1"/><use href="#mt" x="1200.79" y="259.7"/><use href="#mt" x="1204.37" y="259.3"/><use href="#mt" x="1207.94" y="258.91"/><use href="#mt" x="1211.52" y="258.51"/><use href="#mt" x="1215.1" y="258.11"/><use href="#mt" x="1218.68" y="257.71"/><use href="#mt" x="1222.26" y="257.31"/><use href="#mt" x="1225.84" y="256.91"/><use href="#mt" x="1229.42" y="256.51"/><use href="#mt" x="1233" y="256.11"/><use href="#mt" x="1236.58" y="255.71"/><use href="#mt" x="1240.15" y="255.31"/><use href="#mt" x="1243.73" y="254.91"/><use href="#mt" x="1247.31" y="254.51"/><use href="#mt" x="1250.89" y="254.1"/><use href="#mt" x="1254.47" y="253.7"/><use href="#mt" x="1258.05" y="253.3"/><use href="#mt" x="1261.63" y="252.9"/><use href="#mt" x="1265.21" y="252.5"/><use href="#mt" x="1268.79" y="252.09"/><use href="#mt" x="1272.37" y="251.69"/><use href="#mt" x="1275.94" y="251.29"/><use href="#mt" x="1279.52" y="250.88"/><use href="#mt" x="1283.1" y="250.48"/><use href="#mt" x="1286.68" y="250.08"/><use href="#mt" x="1290.26" y="249.67"/><use href="#mt" x="1293.84" y="249.27"/><use href="#mt" x="1297.42" y="248.86"/><use href="#mt" x="1301" y="248.46"/><use href="#mt" x="1304.58" y="248.05"/><use href="#mt" x="1308.16" y="247.65"/><use href="#mt" x="1311.73" y="247.24"/><use href="#mt" x="1315.31" y="246.84"/><use href="#mt" x="1318.89" y="246.43"/><use href="#mt" x="1322.47" y="246.03"/><use href="#mt" x="1326.05" y="245.62"/><use href="#mt" x="1329.63" y="245.21"/><use href="#mt" x="1333.21" y="244.8"/><use href="#mt" x="1336.79" y="244.4"/><use href="#mt" x="1340.37" y="243.99"/><use href="#mt" x="1343.95" y="243.58"/><use href="#mt" x="1347.52" y="243.17"/><use href="#mt" x="1351.1" y="242.77"/><use href="#mt" x="1354.68" y="242.36"/><use href="#mt" x="1358.26" y="241.95"/><use href="#mt" x="1361.84" y="241.54"/><use href="#mt" x="1365.42" y="241.13"/><use href="#mt" x="1369" y="240.72"/><use href="#mt" x="1372.58" y="240.31"/><use href="#mt" x="1376.16" y="239.9"/><use href="#mt" x="1379.74" y="239.49"/><use href="#mt" x="1383.32" y="239.08"/><use href="#mt" x="1386.89" y="238.67"/><use href="#mt" x="1390.47" y="238.26"/><use href="#mt" x="1394.05" y="237.85"/><use href="#mt" x="1397.63" y="237.44"/><use href="#mt" x="1401.21" y="237.03"/><use href="#mt" x="1404.79" y="236.62"/><use href="#mt" x="1408.37" y="236.2"/><use href="#mt" x="1411.95" y="235.79"/><use href="#mt" x="1415.53" y="235.38"/><use href="#mt" x="1419.11" y="234.97"/><use href="#mt" x="1422.68" y="234.55"/><use href="#mt" x="1426.26" y="234.14"/><use href="#mt" x="1429.84" y="233.73"/><use href="#mt" x="1433.42" y="233.31"/></g>
<path d="M1079.1,456.2v-9.8M1258.05,456.2v-9.8M1437,456.2v-9.8" stroke="#0c0c0c" stroke-width="2.0" fill="none"/>
<rect x="1062.1" y="33.75" width="389.1" height="422.45" fill="none" stroke="#0c0c0c" stroke-width="2.15"/>
<text x="1079.1" y="488.2" text-anchor="middle">900</text>
<text x="1258.05" y="488.2" text-anchor="middle">950</text>
<text x="1437" y="488.2" text-anchor="middle">1000</text>
<rect x="1218.1" y="343.9" width="222.2" height="101.2" rx="3.5" fill="#fff" fill-opacity="0.8" stroke="#c8c8c8" stroke-width="2.3"/>
<line x1="1227.1" y1="361.4" x2="1271.6" y2="361.4" stroke="#b450e0" stroke-width="2.5" stroke-dasharray="9.7 5.1"/>
<use href="#lc" x="1249.3" y="361.4"/>
<text class="lg" x="1290.1" y="369.1">G26 MLIM</text>
<line x1="1227.1" y1="392.4" x2="1271.6" y2="392.4" stroke="#03b48c" stroke-width="2.5" stroke-dasharray="9.7 5.1"/>
<use href="#ls" x="1249.3" y="392.4"/>
<text class="lg" x="1290.1" y="400.2">G26 TLIM</text>
<line x1="1227.1" y1="423.4" x2="1271.6" y2="423.4" stroke="#00d0fa" stroke-width="2.5" stroke-dasharray="9.7 5.1"/>
<use href="#lt" x="1249.3" y="424"/>
<text class="lg" x="1290.1" y="431.3">G26 True Value</text>
</g>
<g>
<g><use href="#mq" x="1079.1" y="827.55"/><use href="#mq" x="1082.68" y="827"/><use href="#mq" x="1086.26" y="826.47"/><use href="#mq" x="1089.84" y="825.95"/><use href="#mq" x="1093.42" y="825.45"/><use href="#mq" x="1096.99" y="824.95"/><use href="#mq" x="1100.57" y="824.47"/><use href="#mq" x="1104.15" y="824"/><use href="#mq" x="1107.73" y="823.53"/><use href="#mq" x="1111.31" y="823.08"/><use href="#mq" x="1114.89" y="822.65"/><use href="#mq" x="1118.47" y="822.22"/><use href="#mq" x="1122.05" y="821.81"/><use href="#mq" x="1125.63" y="821.4"/><use href="#mq" x="1129.21" y="821.01"/><use href="#mq" x="1132.78" y="820.63"/><use href="#mq" x="1136.36" y="820.26"/><use href="#mq" x="1139.94" y="819.91"/><use href="#mq" x="1143.52" y="819.56"/><use href="#mq" x="1147.1" y="819.23"/><use href="#mq" x="1150.68" y="818.91"/><use href="#mq" x="1154.26" y="818.6"/><use href="#mq" x="1157.84" y="818.3"/><use href="#mq" x="1161.42" y="818.01"/><use href="#mq" x="1165" y="817.74"/><use href="#mq" x="1168.57" y="817.47"/><use href="#mq" x="1172.15" y="817.22"/><use href="#mq" x="1175.73" y="816.98"/><use href="#mq" x="1179.31" y="816.75"/><use href="#mq" x="1182.89" y="816.53"/><use href="#mq" x="1186.47" y="816.33"/><use href="#mq" x="1190.05" y="816.13"/><use href="#mq" x="1193.63" y="815.95"/><use href="#mq" x="1197.21" y="815.78"/><use href="#mq" x="1200.79" y="815.62"/><use href="#mq" x="1204.37" y="815.47"/><use href="#mq" x="1207.94" y="815.33"/><use href="#mq" x="1211.52" y="815.21"/><use href="#mq" x="1215.1" y="815.09"/><use href="#mq" x="1218.68" y="814.99"/><use href="#mq" x="1222.26" y="814.9"/><use href="#mq" x="1225.84" y="814.82"/><use href="#mq" x="1229.42" y="814.76"/><use href="#mq" x="1233" y="814.7"/><use href="#mq" x="1236.58" y="814.66"/><use href="#mq" x="1240.15" y="814.62"/><use href="#mq" x="1243.73" y="814.6"/><use href="#mq" x="1247.31" y="814.6"/><use href="#mq" x="1250.89" y="814.6"/><use href="#mq" x="1254.47" y="814.61"/><use href="#mq" x="1258.05" y="814.64"/><use href="#mq" x="1261.63" y="814.67"/><use href="#mq" x="1265.21" y="814.72"/><use href="#mq" x="1268.79" y="814.78"/><use href="#mq" x="1272.37" y="814.86"/><use href="#mq" x="1275.94" y="814.94"/><use href="#mq" x="1279.52" y="815.03"/><use href="#mq" x="1283.1" y="815.14"/><use href="#mq" x="1286.68" y="815.26"/><use href="#mq" x="1290.26" y="815.39"/><use href="#mq" x="1293.84" y="815.53"/><use href="#mq" x="1297.42" y="815.68"/><use href="#mq" x="1301" y="815.85"/><use href="#mq" x="1304.58" y="816.03"/><use href="#mq" x="1308.16" y="816.21"/><use href="#mq" x="1311.73" y="816.41"/><use href="#mq" x="1315.31" y="816.62"/><use href="#mq" x="1318.89" y="816.85"/><use href="#mq" x="1322.47" y="817.08"/><use href="#mq" x="1326.05" y="817.33"/><use href="#mq" x="1329.63" y="817.58"/><use href="#mq" x="1333.21" y="817.85"/><use href="#mq" x="1336.79" y="818.13"/><use href="#mq" x="1340.37" y="818.42"/><use href="#mq" x="1343.95" y="818.73"/><use href="#mq" x="1347.52" y="819.04"/><use href="#mq" x="1351.1" y="819.37"/><use href="#mq" x="1354.68" y="819.71"/><use href="#mq" x="1358.26" y="820.06"/><use href="#mq" x="1361.84" y="820.42"/><use href="#mq" x="1365.42" y="820.79"/><use href="#mq" x="1369" y="821.18"/><use href="#mq" x="1372.58" y="821.58"/><use href="#mq" x="1376.16" y="821.98"/><use href="#mq" x="1379.74" y="822.4"/><use href="#mq" x="1383.32" y="822.83"/><use href="#mq" x="1386.89" y="823.28"/><use href="#mq" x="1390.47" y="823.73"/><use href="#mq" x="1394.05" y="824.2"/><use href="#mq" x="1397.63" y="824.67"/><use href="#mq" x="1401.21" y="825.16"/><use href="#mq" x="1404.79" y="825.66"/><use href="#mq" x="1408.37" y="826.18"/><use href="#mq" x="1411.95" y="826.7"/><use href="#mq" x="1415.53" y="827.24"/><use href="#mq" x="1419.11" y="827.78"/><use href="#mq" x="1422.68" y="828.34"/><use href="#mq" x="1426.26" y="828.91"/><use href="#mq" x="1429.84" y="829.49"/><use href="#mq" x="1433.42" y="830.09"/></g>
<path d="M1079.1,962.75v-9.8M1258.05,962.75v-9.8M1437,962.75v-9.8" stroke="#0c0c0c" stroke-width="2.0" fill="none"/>
<rect x="1062.1" y="540.65" width="389.1" height="422.1" fill="none" stroke="#0c0c0c" stroke-width="2.15"/>
<text x="1079.1" y="994.75" text-anchor="middle">900</text>
<text x="1258.05" y="994.75" text-anchor="middle">950</text>
<text x="1437" y="994.75" text-anchor="middle">1000</text>
<rect x="1285.4" y="551.3" width="154.8" height="39" rx="3.5" fill="#fff" fill-opacity="0.8" stroke="#c8c8c8" stroke-width="2.3"/>
<use href="#lq" x="1316.7" y="570.5"/>
<text class="lg" x="1357.2" y="577.2">G26 Ele</text>
<text x="1256.65" y="1032.6" text-anchor="middle">Epoch</text>
</g>
<text transform="translate(91.8,245.8) rotate(-90)" text-anchor="middle">DD Tropospheric delay (m)</text>
<text transform="translate(141.9,751.7) rotate(-90)" text-anchor="middle">Elevation angle (deg)</text>
<text class="pl" x="12.8" y="275.2">(<tspan>a</tspan>)</text>
<text class="pl" x="11.9" y="797.8">(<tspan>b</tspan>)</text>
</g>
</svg></body></html>
